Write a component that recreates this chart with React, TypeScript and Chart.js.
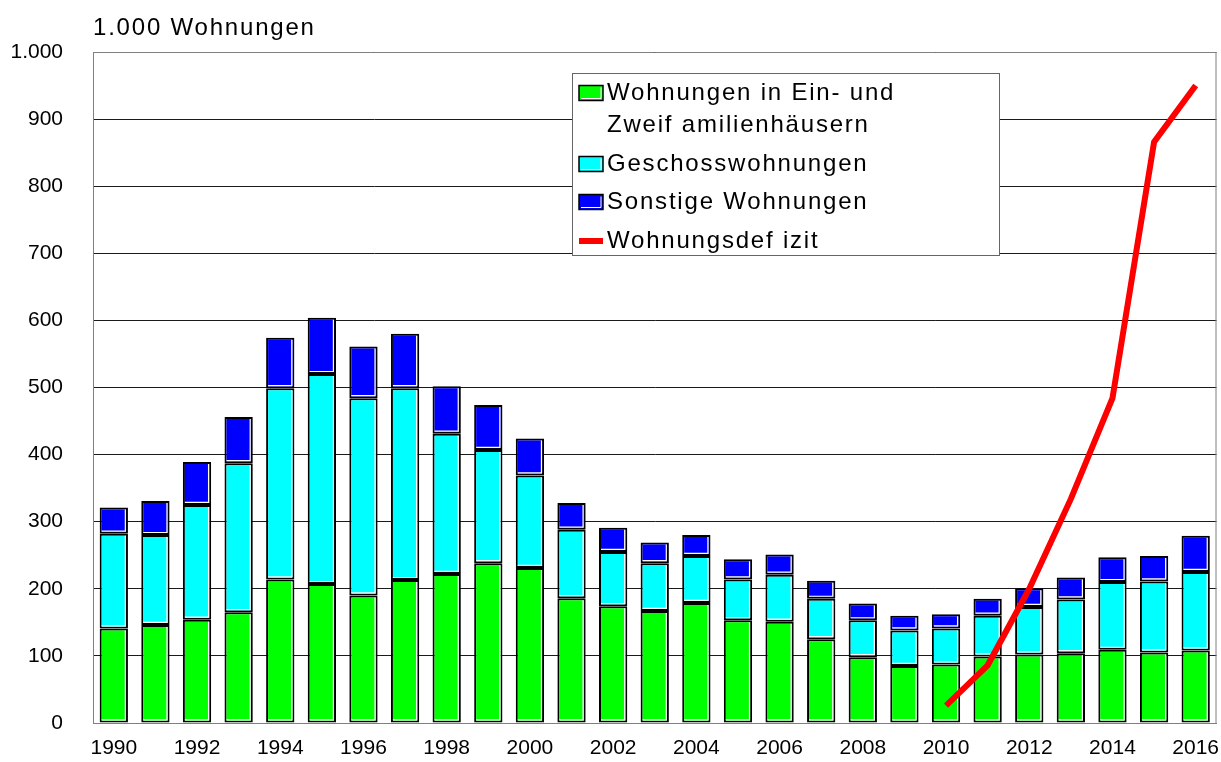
import React, { useEffect, useRef } from "react";
import { Chart, registerables } from "chart.js";

Chart.register(...registerables);

const years = [
  "1990", "1991", "1992", "1993", "1994", "1995", "1996", "1997", "1998",
  "1999", "2000", "2001", "2002", "2003", "2004", "2005", "2006", "2007",
  "2008", "2009", "2010", "2011", "2012", "2013", "2014", "2015", "2016",
];

const einZweiFamilien = [
  141, 146, 154, 165, 214, 207, 190, 213, 222, 238, 231, 186, 174, 167, 179,
  153, 151, 125, 98, 85, 87, 99, 102, 104, 109, 105, 108,
];

const geschoss = [
  141, 134, 171, 222, 285, 313, 294, 286, 209, 169, 138, 102, 81, 71, 70, 61,
  70, 60, 55, 53, 54, 61, 71, 80, 101, 106, 117,
];

const sonstige = [
  39, 51, 64, 69, 75, 84, 77, 81, 71, 67, 55, 40, 36, 31, 31, 30, 30, 27, 25,
  22, 21, 25, 28, 33, 37, 38, 54,
];

const defizit: (number | null)[] = [
  null, null, null, null, null, null, null, null, null, null, null, null, null,
  null, null, null, null, null, null, null, 26, 86, 200, 334, 484, 866, 950,
];

const titleText = "1.000 Wohnungen";
const legendLabels = [
  ["Wohnungen in Ein- und", "Zweif amilienhäusern"],
  ["Geschosswohnungen"],
  ["Sonstige Wohnungen"],
  ["Wohnungsdef izit"],
];
const seriesColors = ["#00FF00", "#00FFFF", "#0000FF", "#FF0000"];

const FONT = '"Liberation Sans", Arial, Helvetica, sans-serif';

const decorPlugin = {
  id: "decor",
  afterDatasetDraw(chart: any, args: any) {
    const ds = chart.data.datasets[args.index];
    if (ds.type !== "bar") return;
    const ctx = chart.ctx;
    ctx.save();
    ctx.strokeStyle = "#ffffff";
    ctx.lineWidth = 1.2;
    args.meta.data.forEach((el: any) => {
      const p = el.getProps(["x", "y", "base", "width"], true);
      const l = p.x - p.width / 2;
      const r = p.x + p.width / 2;
      const t = Math.min(p.y, p.base);
      const b = Math.max(p.y, p.base);
      if (b - t < 6) return;
      ctx.beginPath();
      ctx.moveTo(r - 2.6, t + 2);
      ctx.lineTo(r - 2.6, b - 2.6);
      ctx.lineTo(l + 2, b - 2.6);
      ctx.stroke();
    });
    ctx.restore();
  },
  afterDraw(chart: any) {
    const ctx = chart.ctx;
    const a = chart.chartArea;
    ctx.save();
    // plot frame (top & right)
    ctx.strokeStyle = "#808080";
    ctx.lineWidth = 1;
    ctx.beginPath();
    ctx.moveTo(a.left, a.top + 0.5);
    ctx.lineTo(a.right - 0.5, a.top + 0.5);
    ctx.lineTo(a.right - 0.5, a.bottom);
    ctx.stroke();

    // title
    ctx.font = `24px ${FONT}`;
    (ctx as any).letterSpacing = "1.8px";
    ctx.fillStyle = "#000";
    ctx.textAlign = "left";
    ctx.textBaseline = "middle";
    ctx.fillText(titleText, a.left, a.top - 24);

    // legend box
    const bx = a.left + 479;
    const by = a.top + 21;
    const bw = 427;
    const bh = 182;
    ctx.fillStyle = "#ffffff";
    ctx.fillRect(bx, by, bw, bh);
    ctx.strokeStyle = "#666666";
    ctx.lineWidth = 1;
    ctx.strokeRect(bx + 0.5, by + 0.5, bw, bh);

    const rowY = [by + 20, by + 91, by + 129, by + 168];
    const line2Offset = 32;
    const sx = bx + 7;
    const sw = 24;
    const sh = 15;
    const tx = bx + 35;
    legendLabels.forEach((lines, i) => {
      const y = rowY[i];
      if (i < 3) {
        ctx.fillStyle = seriesColors[i];
        ctx.fillRect(sx, y - sh / 2, sw, sh);
        ctx.strokeStyle = "#000";
        ctx.lineWidth = 1.5;
        ctx.strokeRect(sx, y - sh / 2, sw, sh);
        ctx.strokeStyle = "#fff";
        ctx.lineWidth = 1;
        ctx.beginPath();
        ctx.moveTo(sx + sw - 2, y - sh / 2 + 2);
        ctx.lineTo(sx + sw - 2, y + sh / 2 - 2);
        ctx.lineTo(sx + 2, y + sh / 2 - 2);
        ctx.stroke();
      } else {
        ctx.fillStyle = seriesColors[i];
        ctx.fillRect(sx, y - 3, sw, 6);
      }
      ctx.fillStyle = "#000";
      lines.forEach((txt, j) => {
        ctx.fillText(txt, tx, y + j * line2Offset);
      });
    });
    ctx.restore();
  },
};

export default function App() {
  const canvasRef = useRef<HTMLCanvasElement | null>(null);

  useEffect(() => {
    document.body.style.margin = "0";
    const canvas = canvasRef.current;
    if (!canvas) return;
    const chart = new Chart(canvas, {
      type: "bar",
      data: {
        labels: years,
        datasets: [
          {
            type: "line",
            label: "Wohnungsdefizit",
            data: defizit,
            borderColor: "#FF0000",
            backgroundColor: "#FF0000",
            borderWidth: 6,
            pointRadius: 0,
            tension: 0,
            order: 0,
            stack: "line",
          } as any,
          {
            type: "bar",
            label: "Wohnungen in Ein- und Zweifamilienhäusern",
            data: einZweiFamilien,
            backgroundColor: "#00FF00",
            borderColor: "#000000",
            borderWidth: 2,
            borderSkipped: false,
            order: 1,
            stack: "bars",
          },
          {
            type: "bar",
            label: "Geschosswohnungen",
            data: geschoss,
            backgroundColor: "#00FFFF",
            borderColor: "#000000",
            borderWidth: 2,
            borderSkipped: false,
            order: 1,
            stack: "bars",
          },
          {
            type: "bar",
            label: "Sonstige Wohnungen",
            data: sonstige,
            backgroundColor: "#0000FF",
            borderColor: "#000000",
            borderWidth: 2,
            borderSkipped: false,
            order: 1,
            stack: "bars",
          },
        ],
      },
      options: {
        animation: false,
        responsive: false,
        maintainAspectRatio: false,
        layout: { padding: { left: 0, top: 52, right: 4.5, bottom: 0 } },
        datasets: {
          bar: { categoryPercentage: 1, barPercentage: 0.68 },
        },
        plugins: {
          legend: { display: false },
          title: { display: false },
          tooltip: { enabled: false },
        },
        scales: {
          x: {
            stacked: true,
            offset: true,
            grid: { display: false, drawTicks: false },
            border: { display: true, color: "#808080", width: 1 },
            afterFit: (scale: any) => {
              scale.height = 39;
              scale.paddingLeft = 0;
              scale.paddingRight = 0;
            },
            ticks: {
              autoSkip: false,
              maxRotation: 0,
              minRotation: 0,
              padding: 13,
              color: "#000",
              font: { family: FONT, size: 21 },
              callback: function (this: any, _v: any, idx: number) {
                return idx % 2 === 0 ? years[idx] : "";
              },
            },
          },
          y: {
            stacked: true,
            min: 0,
            max: 1000,
            afterFit: (scale: any) => {
              scale.width = 93;
              scale.paddingTop = 0;
              scale.paddingBottom = 0;
            },
            grid: { color: "#1a1a1a", lineWidth: 1, drawTicks: false },
            border: { display: true, color: "#808080", width: 1 },
            ticks: {
              stepSize: 100,
              padding: 30,
              color: "#000",
              font: { family: FONT, size: 21 },
              callback: (v: any) =>
                Number(v) >= 1000
                  ? Math.floor(Number(v) / 1000) + "." + String(Number(v) % 1000).padStart(3, "0")
                  : String(v),
            },
          },
        },
      },
      plugins: [decorPlugin],
    });
    return () => chart.destroy();
  }, []);

  return (
    <div style={{ width: 1221, height: 762, position: "relative", background: "#fff" }}>
      <canvas ref={canvasRef} width={1221} height={762} style={{ display: "block" }} />
    </div>
  );
}
